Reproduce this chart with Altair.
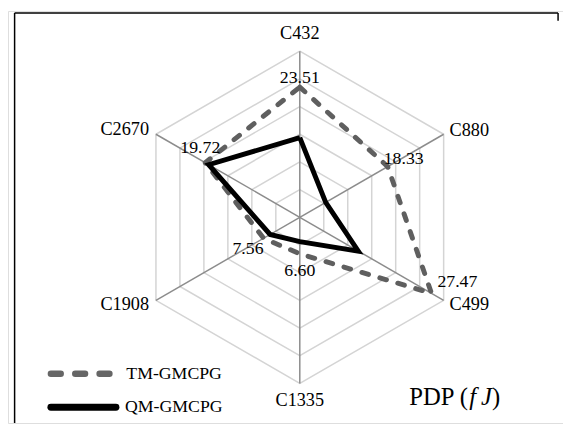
import math
import altair as alt
import pandas as pd

# ---- data ----
categories = ["C432", "C880", "C499", "C1335", "C1908", "C2670"]
tm_values = [23.51, 18.33, 27.47, 6.60, 7.56, 19.72]
qm_values = [14.4, 5.4, 12.2, 4.4, 6.2, 19.0]
ring_values = [5, 10, 15, 20, 25, 30]
series_names = ["TM-GMCPG", "QM-GMCPG"]
tm_label_text = ["23.51", "18.33", "27.47", "6.60", "7.56", "19.72"]

# ---- geometry (px) ----
W, H = 563, 418
K = 168.5 / 30.0
CX, CY = 296.0, 209.3
XDOM = [-CX / K, (W - CX) / K]
YDOM = [-(H - CY) / K, CY / K]
RMAX = ring_values[-1]
FONT = "Liberation Serif"

xs = alt.Scale(domain=XDOM, nice=False, zero=False)
ys = alt.Scale(domain=YDOM, nice=False, zero=False)
XCALC = "datum.v * cos(PI / 2 - datum.i * PI / 3)"
YCALC = "datum.v * sin(PI / 2 - datum.i * PI / 3)"
n = len(categories)

# rings
ring_rows = []
for r in ring_values:
    for o in range(n + 1):
        ring_rows.append({"ring": r, "o": o, "i": o % n, "v": r})
rings = (
    alt.Chart(pd.DataFrame(ring_rows))
    .transform_calculate(x=XCALC, y=YCALC)
    .mark_line(color="#d4d4d4", strokeWidth=1.5)
    .encode(
        x=alt.X("x:Q", scale=xs, axis=None),
        y=alt.Y("y:Q", scale=ys, axis=None),
        detail="ring:N",
        order="o:Q",
    )
)

# spokes
spoke_df = pd.DataFrame({"i": list(range(n)), "v": [RMAX] * n, "z": [0] * n})
spokes = (
    alt.Chart(spoke_df)
    .transform_calculate(x=XCALC, y=YCALC)
    .mark_rule(color="#8c8c8c", strokeWidth=1.5)
    .encode(
        x=alt.X("z:Q", scale=xs, axis=None),
        y=alt.Y("z:Q", scale=ys, axis=None),
        x2="x:Q",
        y2="y:Q",
    )
)


def series_df(values):
    return pd.DataFrame(
        [{"o": o, "i": o % n, "v": values[o % n]} for o in range(n + 1)]
    )


tm_line = (
    alt.Chart(series_df(tm_values))
    .transform_calculate(x=XCALC, y=YCALC)
    .mark_line(color="#5f5f5f", strokeWidth=5, strokeDash=[7, 12], strokeCap="round", strokeJoin="round")
    .encode(x=alt.X("x:Q", scale=xs, axis=None), y=alt.Y("y:Q", scale=ys, axis=None), order="o:Q")
)
qm_line = (
    alt.Chart(series_df(qm_values))
    .transform_calculate(x=XCALC, y=YCALC)
    .mark_line(color="#000000", strokeWidth=5, strokeJoin="miter")
    .encode(x=alt.X("x:Q", scale=xs, axis=None), y=alt.Y("y:Q", scale=ys, axis=None), order="o:Q")
)

layers = [rings, spokes, tm_line, qm_line]

# category labels
cat_style = [
    ("center", 0, -18.5),
    ("left", 6, -4.7),
    ("left", 6, 3.3),
    ("center", 0, 17),
    ("right", -7, 3.5),
    ("right", -7, -5),
]
for i, (al, dx, dy) in enumerate(cat_style):
    d = pd.DataFrame({"i": [i], "v": [RMAX], "t": [categories[i]]})
    layers.append(
        alt.Chart(d)
        .transform_calculate(x=XCALC, y=YCALC)
        .mark_text(font=FONT, fontSize=18.5, color="#000000", align=al, baseline="middle", dx=dx, dy=dy)
        .encode(x=alt.X("x:Q", scale=xs, axis=None), y=alt.Y("y:Q", scale=ys, axis=None), text="t:N")
    )

# value labels (TM)
val_style = [
    ("center", 0, -9),
    ("left", -4, -7.5),
    ("left", 6, -11),
    ("center", 0, 17),
    ("right", 0, 11.5),
    ("center", -5, -15),
]
for i, (al, dx, dy) in enumerate(val_style):
    d = pd.DataFrame({"i": [i], "v": [tm_values[i]], "t": [tm_label_text[i]]})
    layers.append(
        alt.Chart(d)
        .transform_calculate(x=XCALC, y=YCALC)
        .mark_text(font=FONT, fontSize=18, color="#000000", align=al, baseline="middle", dx=dx, dy=dy)
        .encode(x=alt.X("x:Q", scale=xs, axis=None), y=alt.Y("y:Q", scale=ys, axis=None), text="t:N")
    )

one = alt.Data(values=[{"a": 1}])

# frame (partial border)
layers.append(alt.Chart(one).mark_rule(color="#000", strokeWidth=1.5).encode(
    x=alt.value(6.7), y=alt.value(2), y2=alt.value(418)))
layers.append(alt.Chart(one).mark_rule(color="#000", strokeWidth=1.5).encode(
    x=alt.value(6.7), x2=alt.value(558), y=alt.value(2)))
layers.append(alt.Chart(one).mark_rule(color="#000", strokeWidth=1.5).encode(
    x=alt.value(558), y=alt.value(2), y2=alt.value(10)))

# legend
layers.append(alt.Chart(one).mark_rule(color="#666666", strokeWidth=6.5, strokeDash=[10, 14.7], strokeCap="round").encode(
    x=alt.value(43.5), x2=alt.value(103), y=alt.value(368)))
layers.append(alt.Chart(one).mark_rule(color="#000000", strokeWidth=7, strokeCap="round").encode(
    x=alt.value(43.5), x2=alt.value(109.5), y=alt.value(402)))
layers.append(alt.Chart(pd.DataFrame({"t": [series_names[0]]})).mark_text(
    font=FONT, fontSize=18, color="#000", align="left", baseline="middle").encode(
    x=alt.value(120), y=alt.value(368), text="t:N"))
layers.append(alt.Chart(pd.DataFrame({"t": [series_names[1]]})).mark_text(
    font=FONT, fontSize=18, color="#000", align="left", baseline="middle").encode(
    x=alt.value(118.7), y=alt.value(402), text="t:N"))

# unit label
layers.append(alt.Chart(pd.DataFrame({"t": ["PDP ("]})).mark_text(
    font=FONT, fontSize=25, color="#000", align="left", baseline="middle").encode(
    x=alt.value(407), y=alt.value(391.3), text="t:N"))
layers.append(alt.Chart(pd.DataFrame({"t": ["f\u2009J"]})).mark_text(
    font=FONT, fontSize=25, fontStyle="italic", color="#000", align="left", baseline="middle").encode(
    x=alt.value(468), y=alt.value(391.3), text="t:N"))
layers.append(alt.Chart(pd.DataFrame({"t": [")"]})).mark_text(
    font=FONT, fontSize=25, color="#000", align="left", baseline="middle").encode(
    x=alt.value(491), y=alt.value(391.3), text="t:N"))

chart = (
    alt.layer(*layers)
    .properties(width=W, height=H, autosize=alt.AutoSizeParams(type="none"), padding=0)
    .configure_view(stroke=None)
    .configure(background="white")
)

chart.save("out.html", embed_options={"renderer": "svg", "actions": False})
